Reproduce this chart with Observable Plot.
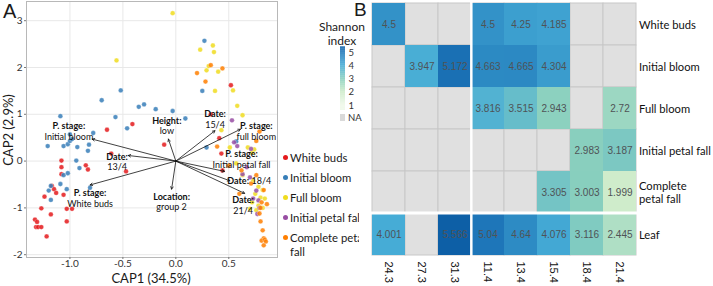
<!DOCTYPE html>
<html><head><meta charset="utf-8">
<script src="https://cdn.jsdelivr.net/npm/d3@7"></script>
<script src="https://cdn.jsdelivr.net/npm/@observablehq/plot@0.6"></script>
<style>
body{margin:0;background:#fff;}
#wrap{position:relative;width:713px;height:286px;overflow:hidden;font-family:Lato,sans-serif;color:#1a1a1a;background:#fff}
.abs{position:absolute;white-space:nowrap}
</style></head><body>
<div id="wrap">
  <div id="panelA" class="abs" style="left:0;top:0;width:359px;height:286px;overflow:hidden"></div>
  <div id="panelB" class="abs" style="left:360px;top:0;width:353px;height:286px"></div>
  <div id="shan" class="abs" style="left:300px;top:0;width:60px;height:130px"></div>
</div>
<script>
// ---------- Panel A data (CAP ordination) ----------
const groups = ["White buds","Initial bloom","Full bloom","Initial petal fall","Complete petal fall"];
const groupColors = ["#e41a1c","#377eb8","#f0dc1e","#984ea3","#ff7f00"];
const whiteBuds = [[0.52,1.62],[0.33,1.0],[0.41,0.49],[0.43,0.16],[0.44,-0.2],[-0.41,0.79],[-0.65,0.67],[-0.61,0.16],[-0.11,0.35],[-0.47,-0.22],[-0.85,-0.09],[-0.83,-0.18],[-1.08,0.01],[-1.08,-0.13],[-1.08,-0.28],[-1.17,-0.53],[-1.15,-0.6],[-1.13,-0.68],[-1.06,-0.72],[-1.24,-0.76],[-1.27,-1.01],[-1.18,-1.14],[-1.03,-1.02],[-0.98,-1.02],[-1.03,-1.29],[-1.33,-1.25],[-1.31,-1.3],[-1.32,-1.41],[-1.3,-1.41],[-1.27,-1.41],[-1.22,-1.61]];
const initialBloom = [[0.27,2.57],[0.25,1.5],[-0.52,1.51],[-0.7,1.3],[-0.3,1.21],[-0.35,1.16],[-0.19,1.11],[-0.03,1.07],[0.09,0.91],[-1.09,0.96],[-0.57,0.94],[-0.46,0.7],[-0.78,0.6],[-1.0,0.57],[-1.21,0.32],[-1.06,0.32],[-1.02,0.36],[-1.0,0.43],[-0.98,0.47],[-0.93,0.3],[-0.82,0.35],[-0.83,0.22],[-0.94,0.01],[-0.91,-0.15],[-1.02,-0.26],[-1.06,-0.3],[-1.09,-0.49],[-1.18,-0.53],[-1.2,-0.63],[-1.18,-0.83],[-1.03,-0.6],[-0.81,-0.57],[0.29,0.29],[0.57,0.42]];
const fullBloom = [[-0.03,3.16],[-0.56,2.15],[0.23,2.38],[0.35,2.47],[0.36,2.33],[0.31,2.03],[0.29,1.94],[0.4,1.91],[0.37,1.5],[0.54,1.51],[0.58,1.18],[0.63,0.98],[0.43,0.66],[0.51,0.29],[0.68,0.29],[0.72,0.18],[0.57,-0.05],[0.63,-0.3],[0.73,-0.42],[0.78,-0.55],[0.82,-0.62],[0.75,-0.7],[0.8,-0.78],[0.84,-0.8],[0.72,-0.88],[0.78,-0.95],[0.82,-1.0],[0.7,-1.02],[0.76,-1.05],[0.74,0.25]];
const initialPetalFall = [[0.53,0.87],[0.71,0.26],[0.55,0.4],[0.58,0.32],[0.67,-0.13],[0.7,-0.35],[0.63,-0.28],[0.76,-0.63],[0.78,-0.84],[0.73,-0.8],[0.77,-1.13],[0.79,-1.0]];
const completePetalFall = [[0.2,1.88],[0.33,2.05],[0.44,1.98],[0.28,1.7],[0.39,0.31],[0.79,0.63],[0.76,0.43],[0.5,-0.1],[0.62,-0.2],[0.76,-0.3],[0.71,-0.48],[0.6,-0.7],[0.83,-0.62],[0.81,-0.88],[0.86,-0.92],[0.8,-1.0],[0.79,-1.12],[0.8,-1.29],[0.82,-1.48],[0.83,-1.65],[0.81,-1.7],[0.84,-1.68],[0.85,-1.72],[0.83,-1.8]];
const groupPoints = [whiteBuds, initialBloom, fullBloom, initialPetalFall, completePetalFall];

// environmental vectors
const vectorNames  = ["P. stage","Date","P. stage","Height","Location","Date","P. stage","P. stage","Date","Date"];
const vectorLevels = ["Initial bloom","13/4","White buds","low","group 2","15/4","full bloom","Initial petal fall","18/4","21/4"];
const vectorX = [-0.79,-0.45,-0.81,-0.07,-0.04,0.37,0.61,0.46,0.51,0.65];
const vectorY = [0.47,0.12,-0.51,0.47,-0.60,0.65,0.68,-0.22,-0.42,-0.69];
const labelX  = [-1.01,-0.555,-0.81,-0.085,-0.04,0.37,0.76,0.62,0.70,0.635];
const labelY  = [0.75,0.09,-0.69,0.86,-0.76,1.0,0.75,0.15,-0.43,-0.83];
const xTicksA = [-1.0,-0.5,0.0,0.5];
const yTicksA = [-2,-1,0,1,2,3];

// ---------- Panel B data (Shannon index heatmap) ----------
const dates = ["24.3","27.3","31.3","11.4","13.4","15.4","18.4","21.4"];
const stages = ["White buds","Initial bloom","Full bloom","Initial petal fall","Complete petal fall","Leaf"];
const whiteBudsH         = [4.5, null, null, 4.5, 4.25, 4.185, null, null];
const initialBloomH      = [null, 3.947, 5.172, 4.663, 4.665, 4.304, null, null];
const fullBloomH         = [null, null, null, 3.816, 3.515, 2.943, null, 2.72];
const initialPetalFallH  = [null, null, null, null, null, null, 2.983, 3.187];
const completePetalFallH = [null, null, null, null, null, 3.305, 3.003, 1.999];
const leafH              = [4.001, null, 5.566, 5.04, 4.64, 4.076, 3.116, 2.445];
const heatRows = [whiteBudsH, initialBloomH, fullBloomH, initialPetalFallH, completePetalFallH, leafH];
const legendTicks = [1,2,3,4,5];

const colorDomain = [1,2,3,4,5,5.6];
const colorRange = ["#eef8e9","#cfeccb","#88cfbe","#46acd6","#1f78ba","#0c5da5"];

// ---------- Panel A ----------
const points = groups.flatMap((g,i) => groupPoints[i].map(([x,y]) => ({x, y, g})));
const vecs = vectorNames.map((n,i) => ({name:n, level:vectorLevels[i], x:vectorX[i], y:vectorY[i], lx:labelX[i], ly:labelY[i], single: vectorLevels[i]==="18/4"}));
const twoLine = vecs.filter(d => !d.single);
const oneLine = vecs.filter(d => d.single);

const plotA = Plot.plot({
  width: 359, height: 286, marginLeft: 26, marginRight: 82, marginTop: 1, marginBottom: 29,
  style: {fontFamily: "Lato", background: "white", color: "#333"},
  x: {domain: [-1.41, 0.96]},
  y: {domain: [-2.06, 3.41]},
  color: {domain: groups, range: groupColors},
  marks: [
    Plot.gridX(xTicksA, {stroke: "#e8e8e8", strokeOpacity: 1}),
    Plot.gridY(yTicksA, {stroke: "#e8e8e8", strokeOpacity: 1}),
    Plot.frame({stroke: "#b8b8b8"}),
    Plot.axisX(xTicksA, {tickFormat: d => d.toFixed(1), tickSize: 2, tickPadding: 0, fontSize: 10, label: null, stroke: "#777", fill: "#333"}),
    Plot.axisY(yTicksA, {tickFormat: d => String(d), tickSize: 2, tickPadding: 2, fontSize: 10, label: null, stroke: "#777", fill: "#333"}),
    Plot.dot(points, {x: "x", y: "y", fill: "g", r: 2.4, fillOpacity: 0.85, stroke: "white", strokeWidth: 0.4, strokeOpacity: 0.7}),
    Plot.arrow(vecs, {x1: () => 0, y1: () => 0, x2: "x", y2: "y", stroke: "#111", strokeWidth: 0.8, headLength: 5, headAngle: 55}),
    Plot.text(twoLine, {x: "lx", y: "ly", text: d => d.name + ":", fontWeight: "bold", fontSize: 9, fill: "#111"}),
    Plot.text(twoLine, {x: "lx", y: "ly", text: "level", dy: 10.7, fontSize: 9, fill: "#111"}),
    Plot.text(oneLine, {x: "lx", y: "ly", text: d => d.name + ":", fontWeight: "bold", fontSize: 9, textAnchor: "end", dx: -1, fill: "#111"}),
    Plot.text(oneLine, {x: "lx", y: "ly", text: "level", fontSize: 9, textAnchor: "start", dx: 1.5, fill: "#111"})
  ]
});
const pa = document.getElementById("panelA");
pa.appendChild(plotA);
function addText(parent, txt, css){ const d=document.createElement("div"); d.className="abs"; d.textContent=txt; d.style.cssText += css; parent.appendChild(d); return d; }
addText(pa, "A", "left:3px;top:1px;font-size:20px;font-family:'Liberation Sans';line-height:20px;");
addText(pa, "CAP1 (34.5%)", "left:151px;top:278px;transform:translate(-50%,-50%);font-size:13px;line-height:14px;");
addText(pa, "CAP2 (2.9%)", "left:8px;top:130px;transform:translate(-50%,-50%) rotate(-90deg);font-size:13px;line-height:14px;");
// group legend
const legendRows = [[groups[0]],[groups[1]],[groups[2]],[groups[3]],["Complete petal","fall"]];
const legY = [157,177,197,217,237];
legendRows.forEach((lines,i) => {
  const dot = document.createElement("div"); dot.className="abs";
  dot.style.cssText += `left:${283}px;top:${legY[i]-2.5}px;width:5px;height:5px;border-radius:50%;background:${groupColors[i]};`;
  pa.appendChild(dot);
  lines.forEach((t,k) => addText(pa, t, `left:290px;top:${legY[i]+k*14}px;transform:translateY(-50%);font-size:11.3px;line-height:13px;`));
});

// ---------- Panel B ----------
const cells = stages.flatMap((s,i) => heatRows[i].map((v,j) => ({stage: s, date: dates[j], v})));
const filled = cells.filter(d => d.v != null);
const bw = 267 / dates.length, bh = 257 / stages.length;
const plotB = Plot.plot({
  width: 353, height: 286, marginLeft: 10, marginRight: 76, marginTop: 0, marginBottom: 29,
  style: {fontFamily: "Lato", background: "transparent", color: "#111"},
  x: {domain: dates, padding: 0},
  y: {domain: stages, padding: 0},
  color: {type: "linear", domain: colorDomain, range: colorRange, clamp: true, interpolate: "rgb"},
  marks: [
    Plot.cell(cells, {x: "date", y: "stage", fill: "#e0e0e0", stroke: "#c8c8c8", strokeWidth: 1}),
    Plot.cell(filled, {x: "date", y: "stage", fill: "v"}),
    Plot.text(filled, {x: "date", y: "stage", text: d => String(d.v), fontSize: 10, fill: "#4f5356", fontFamily: "Liberation Sans"}),
    Plot.ruleX(["11.4"], {x: d => d, stroke: "white", strokeWidth: 2.5, dx: -bw/2}),
    Plot.ruleY(["Leaf"], {y: d => d, stroke: "white", strokeWidth: 3, dy: -bh/2}),
    Plot.axisX({tickSize: 0, tickRotate: 90, tickPadding: 4, fontSize: 11, fontFamily: "Liberation Sans", label: null}),
    Plot.axisY({anchor: "right", tickSize: 0, tickPadding: 1.5, fontSize: 11.2, lineHeight: 1.15, textAnchor: "start", label: null,
      tickFormat: s => s === "Complete petal fall" ? "Complete\npetal fall" : s})
  ]
});
document.getElementById("panelB").appendChild(plotB);

// ---------- Shannon legend ----------
const sh = document.getElementById("shan");
addText(sh, "B", "left:54px;top:0px;font-size:19px;font-family:'Liberation Sans';line-height:19px;");
addText(sh, "Shannon", "left:42px;top:26px;transform:translate(-50%,-50%);font-size:12px;line-height:13px;");
addText(sh, "index", "left:42px;top:40px;transform:translate(-50%,-50%);font-size:12px;line-height:13px;");
const step = 0.05;
const ramp = d3.range(0.62, 5.38, step);
const bar = Plot.plot({
  width: 30, height: 63, marginTop: 0, marginBottom: 0, marginLeft: 10, marginRight: 15,
  style: {fontFamily: "Lato", background: "transparent", color: "#333", overflow: "visible"},
  x: {domain: [0, 1], axis: null},
  y: {domain: [0.62, 5.38]},
  color: {type: "linear", domain: colorDomain, range: colorRange, clamp: true, interpolate: "rgb"},
  marks: [
    Plot.rect(ramp, {x1: () => 0, x2: () => 1, y1: d => d, y2: d => d + step + 0.01, fill: d => d + step/2}),
    Plot.axisY(legendTicks, {anchor: "right", tickSize: 0, tickPadding: 3, fontSize: 9.5, label: null})
  ]
});
bar.style.position = "absolute"; bar.style.left = "30px"; bar.style.top = "47px";
sh.appendChild(bar);
const na = document.createElement("div"); na.className = "abs";
na.style.cssText += "left:40px;top:114px;width:5px;height:7px;background:#d9d9d9;";
sh.appendChild(na);
addText(sh, "NA", "left:48px;top:118px;transform:translateY(-50%);font-size:9.5px;line-height:10px;color:#333;");
</script>
</body></html>
